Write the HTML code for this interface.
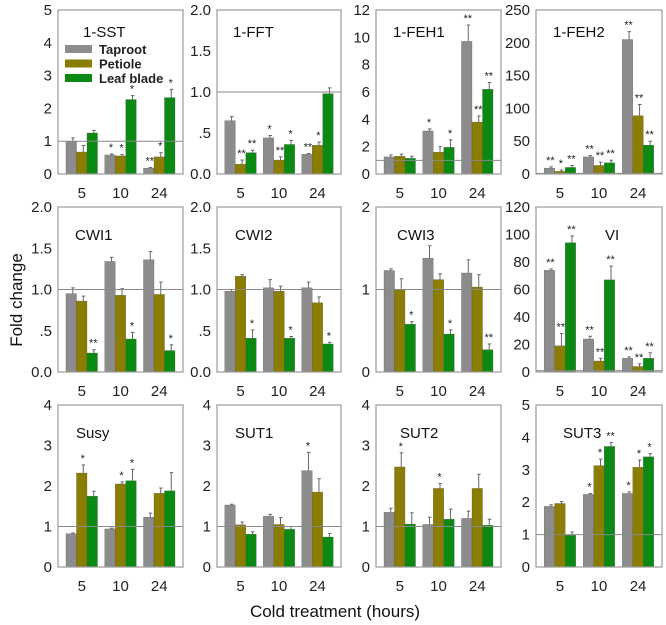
<!DOCTYPE html>
<html><head><meta charset="utf-8">
<style>
body{margin:0;background:#fff;}
svg{display:block;font-family:"Liberation Sans",Arial,sans-serif;}
</style></head>
<body>
<svg id="chart" width="666" height="625" viewBox="0 0 666 625" xmlns="http://www.w3.org/2000/svg">
<text x="0" y="0" transform="translate(22,300) rotate(-90)" text-anchor="middle" font-size="17" fill="#111">Fold change</text>
<text x="335" y="617" text-anchor="middle" font-size="17" fill="#111">Cold treatment (hours)</text>
</svg>
<script>
const categories = ['5','10','24'];
const seriesNames = ['Taproot','Petiole','Leaf blade'];
const panelNames = ['1-SST','1-FFT','1-FEH1','1-FEH2','CWI1','CWI2','CWI3','VI','Susy','SUT1','SUT2','SUT3'];
const panelMax = [5,2,12,250,2,2,2,120,4,4,4,5];
const panelStep = [1,0.5,2,50,0.5,0.5,1,20,1,1,1,1];
const taproot = [[1.0,0.58,0.18],[0.65,0.44,0.24],[1.25,3.15,9.7],[9,26,205],[0.95,1.34,1.36],[0.98,1.02,1.02],[1.23,1.38,1.2],[74,24,10],[0.82,0.94,1.23],[1.53,1.25,2.38],[1.35,1.05,1.2],[1.87,2.24,2.27]];
const petiole = [[0.67,0.55,0.52],[0.12,0.17,0.35],[1.3,1.6,3.8],[4,13,89],[0.86,0.93,0.94],[1.16,0.98,0.84],[1.0,1.12,1.03],[19,8,4],[2.32,2.05,1.82],[1.04,1.05,1.85],[2.47,1.94,1.94],[1.96,3.13,3.08]];
const leafBlade = [[1.25,2.27,2.33],[0.26,0.36,0.98],[1.15,1.95,6.2],[10,17,44],[0.23,0.40,0.26],[0.41,0.41,0.34],[0.58,0.46,0.27],[94,67,10],[1.75,2.13,1.88],[0.81,0.93,0.74],[1.06,1.18,1.03],[0.98,3.72,3.4]];
const taprootErr = [[0.1,0.03,0.02],[0.05,0.03,0.01],[0.15,0.15,1.2],[2,2,12],[0.07,0.05,0.1],[0.02,0.1,0.07],[0.02,0.15,0.16],[1,2,1],[0.02,0.02,0.1],[0.02,0.05,0.45],[0.1,0.18,0.18],[0.05,0.03,0.05]];
const petioleErr = [[0.2,0.04,0.13],[0.05,0.04,0.04],[0.15,0.4,0.45],[2,5,17],[0.06,0.08,0.15],[0.02,0.06,0.07],[0.13,0.07,0.15],[9,2,2],[0.2,0.05,0.13],[0.07,0.17,0.33],[0.35,0.12,0.35],[0.06,0.2,0.22]];
const leafErr = [[0.08,0.12,0.25],[0.03,0.05,0.07],[0.15,0.55,0.5],[3,4,6],[0.04,0.08,0.07],[0.1,0.02,0.02],[0.03,0.05,0.07],[5,10,4],[0.12,0.28,0.45],[0.06,0.07,0.09],[0.28,0.25,0.15],[0.1,0.12,0.1]];
const taprootStars = [['','*','**'],['','*','**'],['','*','**'],['**','**','**'],['','',''],['','',''],['','',''],['**','**','**'],['','',''],['','','*'],['','',''],['','*','*']];
const petioleStars = [['','*','*'],['**','**','*'],['','','**'],['*','**','**'],['','',''],['','',''],['','',''],['**','**','**'],['*','*',''],['','',''],['*','*',''],['','*','*']];
const leafStars = [['','*','*'],['**','*',''],['','*','**'],['**','**','**'],['**','*','*'],['*','*','*'],['*','*','**'],['**','**','**'],['','*',''],['','',''],['','',''],['','**','*']];

const colors = ['#8c8c8c','#8a7d00','#0a8a12'];
const cols = [[58,183],[217,341],[376,501],[536,662]];
const rows = [[10,174],[207,372],[405,567]];
const titlePos = [[83,37],[233,37],[393,37],[553,37],[75,240],[235,240],[397,240],[605,240],[76,438],[235,438],[400,438],[563,438]];
const svg = document.getElementById('chart');
const NS = 'http://www.w3.org/2000/svg';
function mk(tag, attrs, parent){
  const e = document.createElementNS(NS, tag);
  for (const k in attrs) e.setAttribute(k, attrs[k]);
  (parent||svg).appendChild(e);
  return e;
}
function fmt(v, step){
  if (step < 1) { if (v === 0) return '0.0'; let s = v.toFixed(1); if (s.startsWith('0')) s = s.slice(1); return s; }
  return String(v);
}
const seriesVals = [taproot, petiole, leafBlade];
const seriesErr = [taprootErr, petioleErr, leafErr];
const seriesStars = [taprootStars, petioleStars, leafStars];

for (let p = 0; p < 12; p++) {
  const [x0,x1] = cols[p%4];
  const [y0,y1] = rows[Math.floor(p/4)];
  const w = x1-x0;
  const g = mk('g', {});
  
  
  const yScale = v => y1 - v/panelMax[p]*(y1-y0);
  const xCenter = i => x0 + w*(0.19 + i*0.31);
  // ticks
  for (let t = 0; t <= panelMax[p] + 1e-9; t += panelStep[p]) {
    const tl = mk('text', {x: x0-6, y: yScale(t)+5, 'text-anchor':'end', 'font-size':15, fill:'#222'}, g);
    
    
    tl.textContent = fmt(Math.round(t*10)/10, panelStep[p]);
  }
  categories.forEach((c,i) => {
    const tl = mk('text', {x: xCenter(i), y: y1+24, 'text-anchor':'middle', 'font-size':15, fill:'#222'}, g);
    
    
    tl.textContent = c;
  });
  // bars
  const bw = 10.5;
  for (let s = 0; s < 3; s++) {
    for (let i = 0; i < 3; i++) {
      const v = seriesVals[s][p][i];
      const bx = xCenter(i) - 1.5*bw + s*bw;
      const top = yScale(v);
      const r = mk('rect', {x: bx, y: top, width: bw, height: y1-top, fill: colors[s], stroke:'#555', 'stroke-width':0.3}, g);
      
      
      const et = yScale(v + seriesErr[s][p][i]);
      const cx = bx + bw/2 + 1.5;
      mk('line', {x1: cx, x2: cx, y1: top, y2: et, stroke: '#666', 'stroke-width':1}, g);
      mk('line', {x1: cx-1.5, x2: cx+2, y1: et, y2: et, stroke: '#666', 'stroke-width':1}, g);
      const st = seriesStars[s][p][i];
      if (st) {
        const stx = mk('text', {x: bx+bw/2+1, y: et-3, 'text-anchor':'middle', 'font-size':11, fill:'#222'}, g);
        
        
        stx.textContent = st;
      }
    }
  }
  // reference line at 1
  mk('line', {x1: x0, x2: x1, y1: yScale(1), y2: yScale(1), stroke: '#888', 'stroke-width':1}, g);
  // frame
  mk('rect', {x: x0, y: y0, width: w, height: y1-y0, fill:'none', stroke:'#999', 'stroke-width':1.2}, g);
  const tt = mk('text', {x: titlePos[p][0], y: titlePos[p][1], 'font-size':15, fill:'#111'}, g);
  
  
  tt.textContent = panelNames[p];
}
// legend
const lg = mk('g', {});


seriesNames.forEach((n, s) => {
  const y = 49 + s*14.5;
  const sw = mk('rect', {x: 65, y: y-4, width: 27, height: 8, fill: colors[s]}, lg);
  
  
  const t = mk('text', {x: 99, y: y+5, 'font-size':13, 'font-weight':'bold', fill:'#222'}, lg);
  
  
  t.textContent = n;
});
</script>
</body></html>
